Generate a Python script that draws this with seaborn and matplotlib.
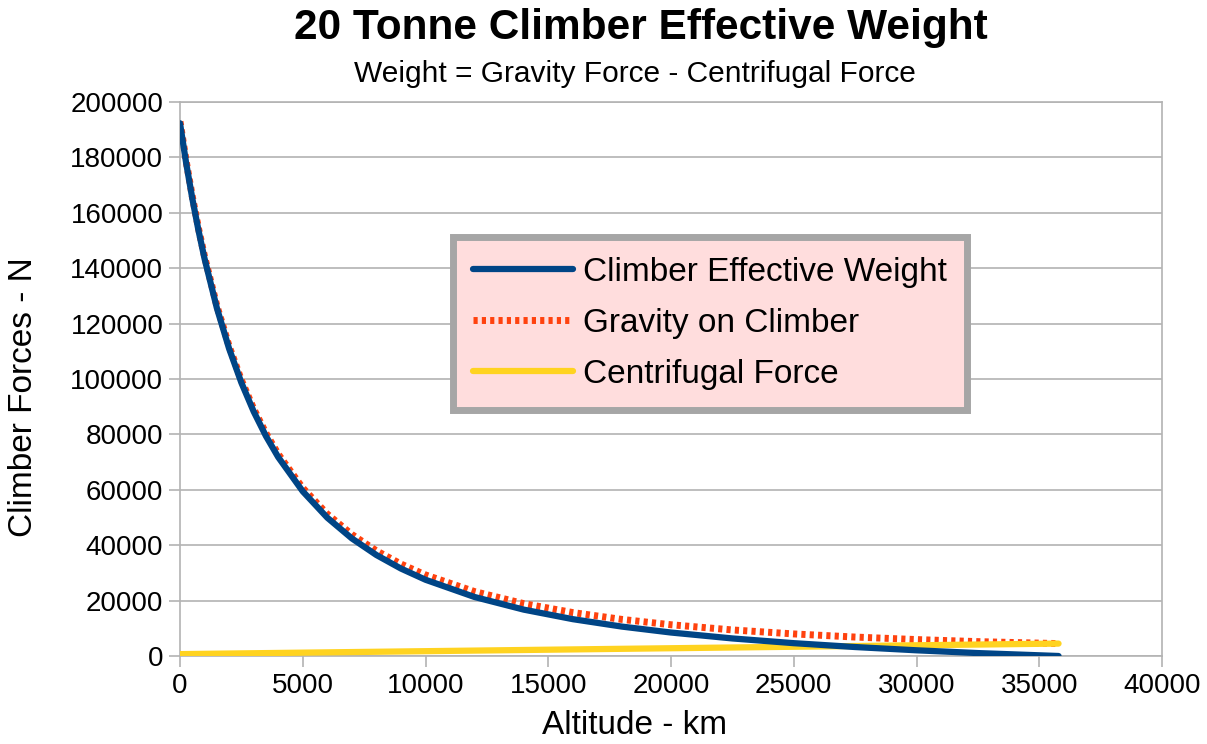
import matplotlib
matplotlib.use("Agg")
import matplotlib.pyplot as plt
import seaborn as sns
import pandas as pd

altitude_km = [0, 250, 500, 750, 1000, 1500, 2000, 2500, 3000, 3500, 4000, 5000, 6000,
               7000, 8000, 9000, 10000, 12000, 14000, 16000, 18000, 20000, 22500, 25000,
               27500, 30000, 32500, 35786]
gravity_N = [193000, 178700, 165960, 154520, 144230, 126500, 111850, 99610, 89270, 80460,
             72900, 60650, 51240, 43870, 37980, 33200, 29270, 23250, 18910, 15680, 13210,
             11280, 9410, 7970, 6840, 5930, 5190, 4480]
centrifugal_N = [678, 705, 731, 758, 784, 838, 891, 944, 997, 1050, 1104, 1210, 1316,
                 1423, 1529, 1635, 1742, 1955, 2167, 2380, 2593, 2805, 3071, 3337, 3603,
                 3869, 4135, 4480]
weight_N = [192322, 177995, 165229, 153762, 143446, 125662, 110959, 98666, 88273, 79410,
            71796, 59440, 49924, 42447, 36451, 31565, 27528, 21295, 16743, 13300, 10617,
            8475, 6339, 4633, 3237, 2061, 1055, 0]

title = "20 Tonne Climber Effective Weight"
subtitle = "Weight = Gravity Force - Centrifugal Force"
series_names = ["Climber Effective Weight", "Gravity on Climber", "Centrifugal Force"]

df = pd.DataFrame({"alt": altitude_km, "w": weight_N, "g": gravity_N, "c": centrifugal_N})

sns.set_theme(style="white")
plt.rcParams['font.family'] = ['Liberation Sans', 'DejaVu Sans']
plt.rcParams['text.color'] = 'black'
plt.rcParams['axes.labelcolor'] = 'black'

fig = plt.figure(figsize=(12.07, 7.44), dpi=100)
ax = fig.add_axes([180/1207, 1-656/744, (1162-180)/1207, (656-102)/744])

grid_c = "#b3b3b3"
sns.lineplot(data=df, x="alt", y="g", ax=ax, color="#ff420e", linewidth=5,
             label=series_names[1], zorder=2)
sns.lineplot(data=df, x="alt", y="c", ax=ax, color="#ffd320", linewidth=4.5,
             label=series_names[2], zorder=3)
sns.lineplot(data=df, x="alt", y="w", ax=ax, color="#004586", linewidth=4.5,
             label=series_names[0], zorder=4)
ax.lines[0].set_linestyle((0, (0.6, 0.6)))
ax.lines[0].set_dash_capstyle("butt")

ax.set_xlim(0, 40000)
ax.set_ylim(0, 200000)
ax.set_xticks(range(0, 40001, 5000))
ax.set_yticks(range(0, 200001, 20000))
ax.yaxis.grid(True, color=grid_c, linewidth=1.2)
ax.xaxis.grid(False)
for s in ax.spines.values():
    s.set_color(grid_c)
    s.set_linewidth(1.2)
ax.tick_params(axis="both", which="major", length=8, width=1.2, color=grid_c,
               labelsize=20, direction="out", left=True, bottom=True, labelcolor="#000000")
ax.tick_params(axis="x", pad=4)
ax.tick_params(axis="y", pad=4)

ax.set_xlabel("Altitude - km", fontsize=24)
ax.set_ylabel("Climber Forces - N", fontsize=24)
ax.xaxis.set_label_coords((635-180)/982, (656-710)/554)
ax.yaxis.set_label_coords((39-180)/982, (656-397)/554)

fig.text(641/1207, 1-28/744, title, ha="center", va="center", fontsize=30.5,
         fontweight="bold", color="black")
fig.text(635/1207, 1-74/744, subtitle, ha="center", va="center", fontsize=21.5,
         color="black")

handles, labels = ax.get_legend_handles_labels()
order = [labels.index(n) for n in series_names]
leg = ax.legend([handles[i] for i in order], [labels[i] for i in order],
                loc="upper left", bbox_to_anchor=((453-180)/982, (656-237)/554),
                fontsize=24, frameon=True, fancybox=False, handlelength=3.0,
                borderpad=0.6, labelspacing=0.6, handletextpad=0.3, borderaxespad=0)
frame = leg.get_frame()
frame.set_facecolor("#ffdddd")
frame.set_edgecolor("#a6a6a6")
frame.set_linewidth(5)
frame.set_alpha(1)

fig.savefig("out.png", dpi=100)
